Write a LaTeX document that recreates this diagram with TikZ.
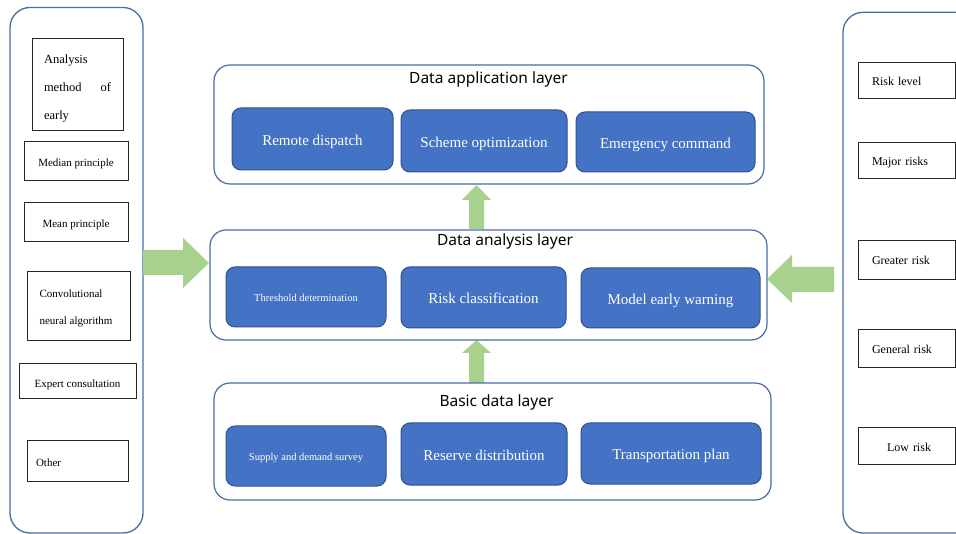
\documentclass[tikz,border=0pt]{standalone}
\usepackage{fontspec}
\setmainfont{Liberation Serif}
\newfontfamily\titlefont{Noto Sans}
\definecolor{bfill}{HTML}{4472C4}
\definecolor{bdraw}{HTML}{2F528F}
\definecolor{odraw}{HTML}{4A6DA8}
\definecolor{agreen}{HTML}{A9D18E}
\begin{document}
\begin{tikzpicture}[x=1pt,y=-1pt,
  panel/.style={rectangle, draw=odraw, line width=1.3pt, rounded corners=20pt, inner sep=0pt},
  layer/.style={rectangle, draw=odraw, line width=1.2pt, rounded corners=16pt, inner sep=0pt},
  bbox/.style={rectangle, draw=bdraw, fill=bfill, line width=1pt, rounded corners=9pt, text=white, inner sep=2pt, font=\fontsize{15}{18}\selectfont, text height=14pt, text depth=1pt},
  bsmall/.style={bbox, font=\fontsize{10.5}{13}\selectfont, text height=10pt, text depth=1pt},
  wbox/.style={rectangle, draw=black!85, line width=0.8pt, fill=white, inner sep=2pt, font=\fontsize{11}{13}\selectfont},
  wtext/.style={wbox, text height=12pt, text depth=0pt},
  rbox/.style={wbox, font=\fontsize{12}{14}\selectfont, inner xsep=14pt, text width=69pt, align=left, minimum width=97pt, text height=12pt, text depth=1pt},
  ltitle/.style={font=\titlefont\fontsize{15.5}{18}\selectfont, anchor=base, inner sep=0pt},
  garrow/.style={fill=agreen, draw=none}]
\clip (0,0) rectangle (956,534);
\fill[white] (0,0) rectangle (956,534);

% side panels
\node[panel, minimum width=133pt, minimum height=525.5pt] (lp) at (76.5,270.25) {};
\node[panel, minimum width=132pt, minimum height=520.7pt] (rp) at (909,272.65) {};

% green block arrows
\fill[garrow] (469,229) -- (469,200) -- (462,200) -- (476.5,185) -- (491,200) -- (484,200) -- (484,229) -- cycle;
\fill[garrow] (469,383) -- (469,353) -- (462,353) -- (476.5,340) -- (491,353) -- (484,353) -- (484,383) -- cycle;
\fill[garrow] (143,250) -- (183,250) -- (183,238) -- (209,263) -- (183,288) -- (183,275) -- (143,275) -- cycle;
\fill[garrow] (834,267) -- (792,267) -- (792,255) -- (767,279) -- (792,303) -- (792,292) -- (834,292) -- cycle;

% layers
\node[layer, minimum width=550pt, minimum height=119pt] (app) at (489,124.5) {};
\node[layer, minimum width=557pt, minimum height=110pt] (anl) at (488.5,285) {};
\node[layer, minimum width=557pt, minimum height=117pt] (bas) at (492.5,441.5) {};

\node[ltitle] (appt) at (488.5,84) {Data application layer};
\node[ltitle] (anlt) at (505,246) {Data analysis layer};
\node[ltitle] (bast) at (496.5,407) {Basic data layer};

% blue boxes
\node[bbox, minimum width=161pt, minimum height=62pt] (rd) at (312.5,139) {Remote dispatch};
\node[bbox, minimum width=166pt, minimum height=62pt] (so) at (484,141) {Scheme optimization};
\node[bbox, minimum width=179pt, minimum height=60pt] (ec) at (665.5,142) {Emergency command};

\node[bsmall, minimum width=160pt, minimum height=60pt] (td) at (306,297) {Threshold determination};
\node[bbox, minimum width=165pt, minimum height=61pt] (rc) at (483.5,297.5) {Risk classification};
\node[bbox, minimum width=179pt, minimum height=60pt] (mw) at (670.5,298) {Model early warning};

\node[bsmall, minimum width=160pt, minimum height=60pt] (sd) at (306,456) {Supply and demand survey};
\node[bbox, minimum width=166pt, minimum height=62pt] (rv) at (484,454) {Reserve distribution};
\node[bbox, minimum width=180pt, minimum height=61pt] (tp) at (671,453.5) {Transportation plan};

% left boxes
\node[wbox, minimum width=91pt, minimum height=92pt] (ae) at (77.5,84.5)
  {\raisebox{-4.5pt}[\height][\depth]{\parbox{67pt}{\fontsize{12.5}{28}\selectfont Analysis\\method\hfill of\\early}}};
\node[wtext, minimum width=104pt, minimum height=39pt] (med) at (76,160.5) {Median principle};
\node[wtext, minimum width=104pt, minimum height=38.5pt] (mean) at (76,222) {Mean principle};
\node[wbox, minimum width=103pt, minimum height=69pt] (conv) at (78.5,305.5)
  {\raisebox{-2.5pt}[\height][\depth]{\parbox{78pt}{\fontsize{11}{27}\selectfont Convolutional\\neural algorithm}}};
\node[wtext, minimum width=117pt, minimum height=35.5pt, text height=13pt] (exp) at (77.5,381) {Expert consultation};
\node[wtext, minimum width=101pt, minimum height=41pt, inner xsep=9pt, text width=83pt, align=left] (oth) at (77.5,460.5) {Other};

% right boxes
\node[rbox, minimum height=36.5pt] (rl) at (906.5,80.5) {Risk level};
\node[rbox, minimum height=36pt] (mr) at (906.5,160) {Major risks};
\node[rbox, minimum height=39pt] (gr) at (906.5,259.5) {Greater risk};
\node[rbox, minimum height=38pt] (gen) at (906.5,348) {General risk};
\node[rbox, minimum height=37pt, align=center] (low) at (906.5,445.5) {\hspace*{5pt}Low risk};
\end{tikzpicture}
\end{document}
